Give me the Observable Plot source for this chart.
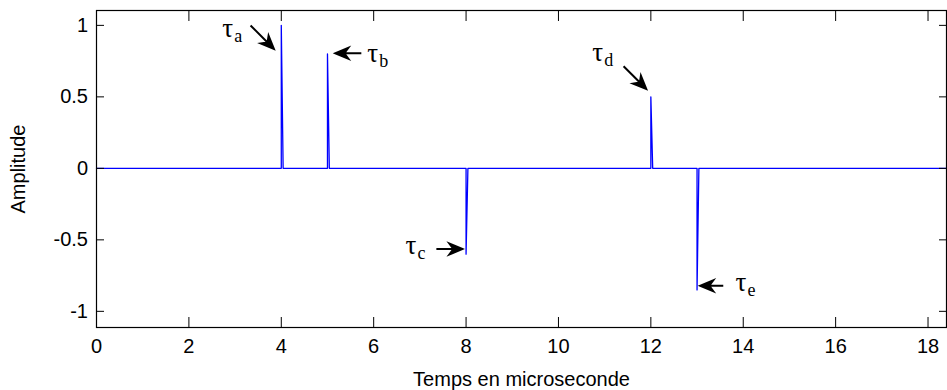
<!DOCTYPE html>
<html><head><meta charset="utf-8">
<script src="https://cdn.jsdelivr.net/npm/d3@7"></script>
<script src="https://cdn.jsdelivr.net/npm/@observablehq/plot@0.6"></script>
<style>html,body{margin:0;padding:0;background:#fff}#chart svg{display:block}</style>
</head><body><div id="chart"></div>
<script>
// Impulse response (time in microseconds, amplitude)
const time      = [0, 4, 4, 4.04, 5, 5,   5.04, 8, 8,    8.04, 12, 12,  12.04, 13, 13,    13.04, 18.4];
const amplitude = [0, 0, 1, 0,    0, 0.8, 0,    0, -0.6, 0,    0,  0.5, 0,     0,  -0.85, 0,     0];

const xTicks = [0, 2, 4, 6, 8, 10, 12, 14, 16, 18];
const xTickLabels = ["0", "2", "4", "6", "8", "10", "12", "14", "16", "18"];
const yTicks = [-1, -0.5, 0, 0.5, 1];
const yTickLabels = ["-1", "-0.5", "0", "0.5", "1"];

// Annotations (τ labels and arrows), in data units
const tauSubs   = ["a", "b", "c", "d", "e"];
const labelX    = [2.72, 5.86, 6.69, 10.73, 13.83];
const labelY    = [0.917, 0.742, -0.599, 0.749, -0.856];
const arrowTipX = [3.84, 5.17, 7.92, 11.90, 13.07];
const arrowTipY = [0.836, 0.805, -0.564, 0.556, -0.821];
const arrowAngle  = [135, 270, 90, 135, 270];
const arrowLength = [33, 26, 26, 32, 23];

const signal = time.map((t, i) => ({t, a: amplitude[i]}));
const labels = tauSubs.map((s, i) => ({x: labelX[i], y: labelY[i], sub: s}));
const arrows = tauSubs.map((s, i) => ({x: arrowTipX[i], y: arrowTipY[i], angle: arrowAngle[i], len: arrowLength[i]}));

const arrowShape = {
  draw(context, l) {
    const hl = 13, hw = 5.5, notch = 9;
    context.moveTo(0, 0);
    context.lineTo(0, -l + notch);
    context.moveTo(0, -l);
    context.lineTo(-hw, -l + hl);
    context.lineTo(0, -l + notch);
    context.lineTo(hw, -l + hl);
    context.closePath();
  }
};

const sans = "Liberation Sans, Arial, Helvetica, sans-serif";
const serif = "Liberation Serif, Times New Roman, serif";

const chart = Plot.plot({
  width: 947,
  height: 390,
  marginTop: 10,
  marginRight: 1,
  marginBottom: 63,
  marginLeft: 96,
  style: {fontFamily: sans, fontSize: "20px", background: "#fff", color: "#000"},
  x: {domain: [0, 18.4]},
  y: {domain: [-1.113, 1.104]},
  length: {type: "identity"},
  marks: [
    Plot.line(signal, {x: "t", y: "a", stroke: "#0000ff", strokeWidth: 1.3}),
    Plot.frame({stroke: "#000", strokeWidth: 1.2}),
    // inward ticks on all four sides
    Plot.axisX({anchor: "bottom", ticks: xTicks, tickSize: 10, dy: -10, fill: "none", label: null}),
    Plot.axisX({anchor: "top", ticks: xTicks, tickSize: 10, dy: 10, fill: "none", label: null}),
    Plot.axisY({anchor: "left", ticks: yTicks, tickSize: 8, dx: 8, fill: "none", label: null}),
    Plot.axisY({anchor: "right", ticks: yTicks, tickSize: 8, dx: -8, fill: "none", label: null}),
    // tick labels and axis titles
    Plot.axisX({anchor: "bottom", ticks: xTicks, tickSize: 0, tickPadding: 11.3, fontSize: 20,
      tickFormat: (d) => xTickLabels[xTicks.indexOf(d)],
      label: "Temps en microseconde", labelAnchor: "center", labelOffset: 58, labelArrow: "none"}),
    Plot.axisY({anchor: "left", ticks: yTicks, tickSize: 0, tickPadding: 8.5, fontSize: 20,
      tickFormat: (d) => yTickLabels[yTicks.indexOf(d)],
      label: "Amplitude", labelAnchor: "center", labelOffset: 86, labelArrow: "none"}),
    // annotations
    Plot.vector(arrows, {x: "x", y: "y", rotate: "angle", length: "len", anchor: "end", shape: arrowShape,
      stroke: "#000", fill: "#000", strokeWidth: 2, strokeLinejoin: "miter", strokeLinecap: "butt"}),
    Plot.text(labels, {x: "x", y: "y", text: () => "τ", textAnchor: "start", lineAnchor: "bottom",
      fontSize: 27, fontFamily: serif, fill: "#000"}),
    Plot.text(labels, {x: "x", y: "y", text: "sub", textAnchor: "start", lineAnchor: "bottom",
      dx: 12, dy: 5, fontSize: 18, fontFamily: serif, fill: "#000"})
  ]
});
document.getElementById("chart").appendChild(chart);
</script>
</body></html>
